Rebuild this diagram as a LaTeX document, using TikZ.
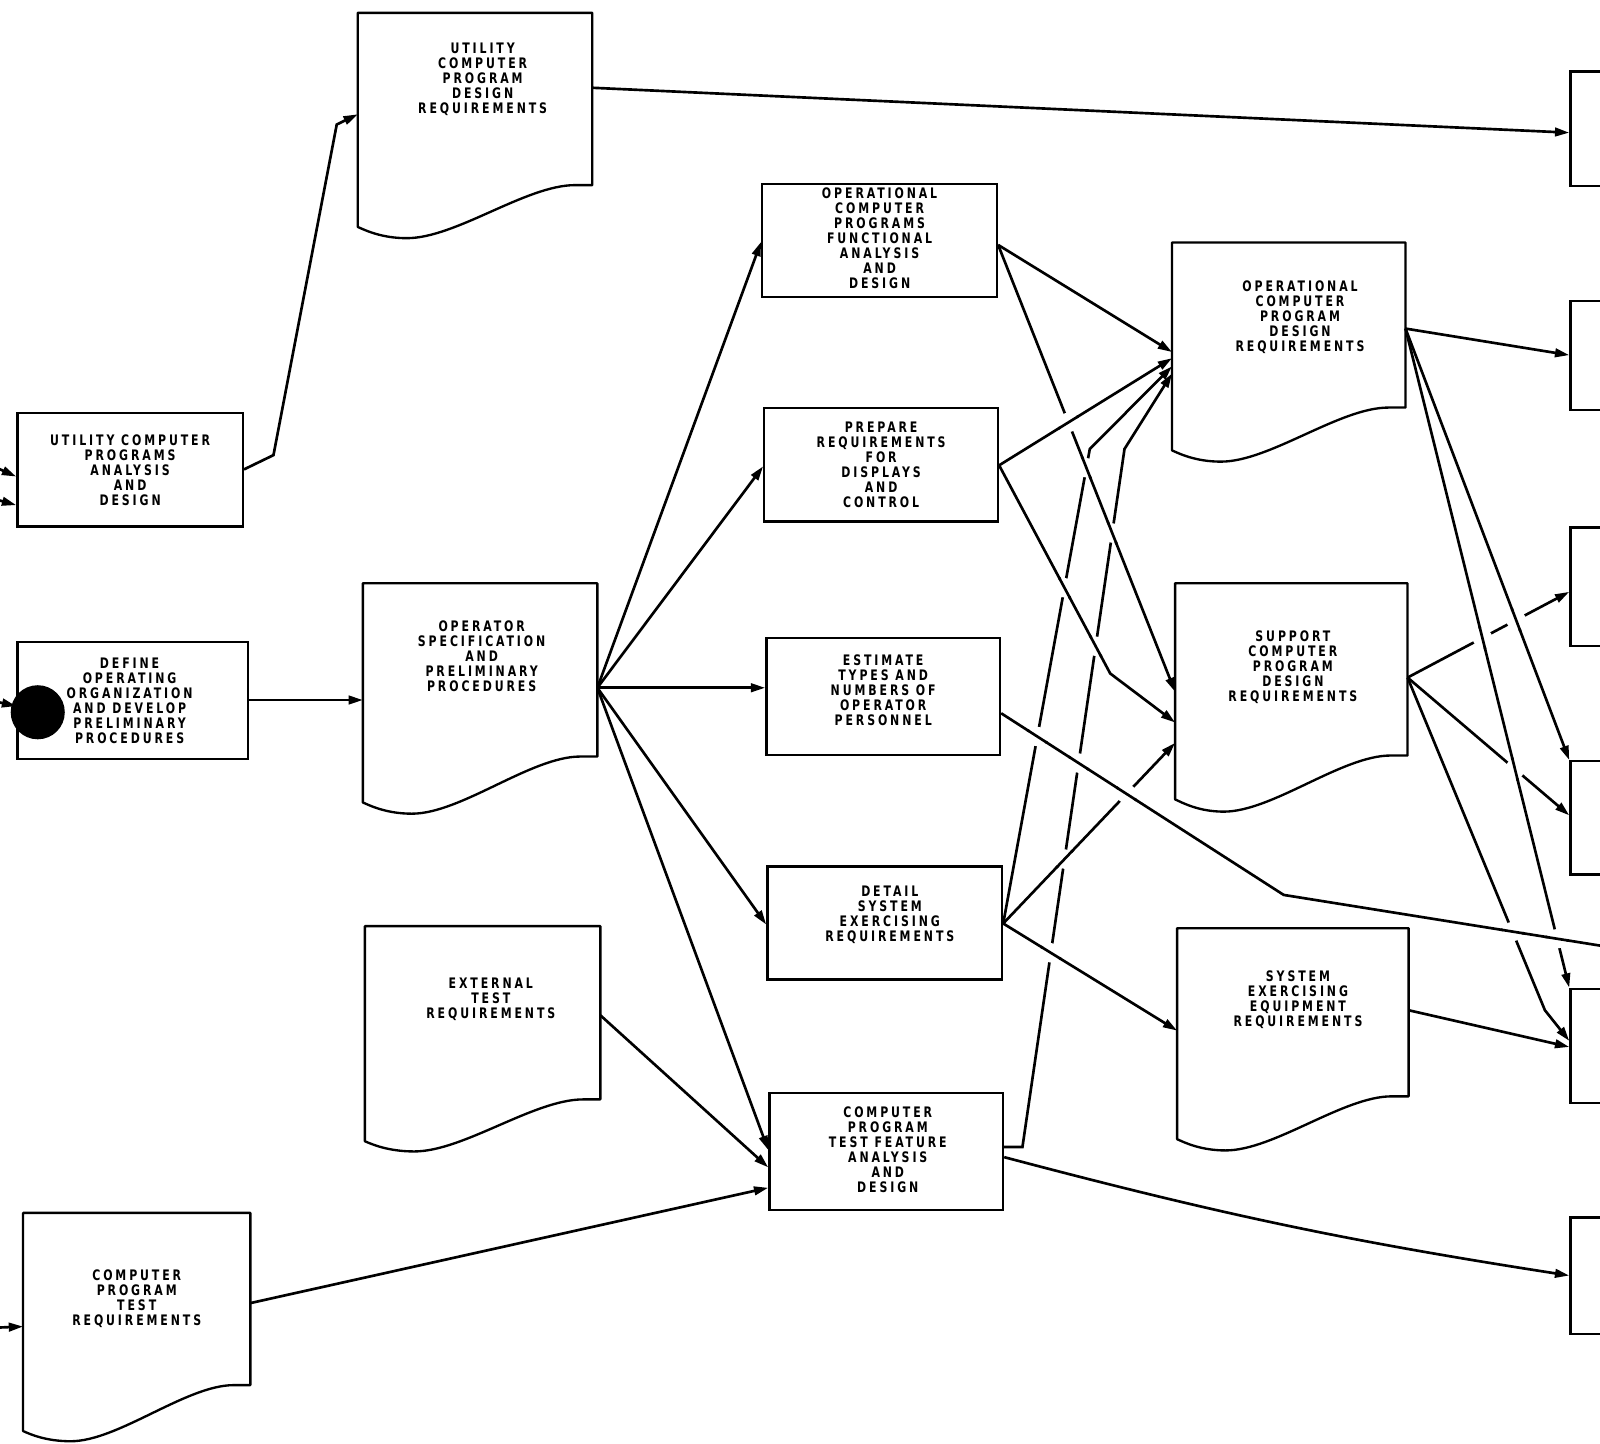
\documentclass[tikz,border=0pt]{standalone}
\usepackage{fontspec}
\newfontfamily\lbl[LetterSpace=20,FakeStretch=0.84]{DejaVu Sans Condensed}
\usetikzlibrary{arrows.meta,calc,fit,intersections}
\tikzset{
 pbox/.style={draw, line width=1.15pt, inner sep=0pt},
 dbox/.style={draw=none, inner sep=0pt},
 txt/.style={font=\lbl\bfseries\fontsize{7.1}{7.35}\selectfont, align=center, inner sep=0pt},
 outline/.style={line width=1.15pt, line join=round},
 wire/.style={line width=1.3pt},
 conn/.style={wire, -{Triangle[length=7pt,width=4.2pt]}},
 blob/.style={circle, fill=black, inner sep=0pt, minimum size=26.5pt}
}
\newcommand\docout[4]{%
 \begin{scope}[shift={(#1.south west)}]
 \draw[outline] (#1.north west) -- (#1.north east) -- (#1.south east) -- (0.93*#2,0)
   .. controls (0.72*#2,0) and (0.42*#2,#4) .. (0.21*#2,#4)
   .. controls (0.1*#2,#4) and (0.03*#2,#3+3) .. (0,#3) -- cycle;
 \end{scope}}
\newcommand\hop[4]{%
 \path[name intersections={of=#1 and #2, by=hx}];
 \fill[white] (hx) circle (4.8pt);
 \draw[wire] ($(hx)!5.8pt!(#3)$) -- ($(hx)!5.8pt!(#4)$);}
\begin{document}
\begin{tikzpicture}[x=0.5pt,y=-0.5pt]
\useasboundingbox (0,0) rectangle (1568,1415);
\fill[white] (0,0) rectangle (1568,1415);
\clip (0,0) rectangle (1568,1415);

% ---------- documents ----------
\node[dbox, fit={(351,13)(580,181)}, label={[txt,xshift=3.75pt,yshift=9.75pt]center:UTILITY\\COMPUTER\\PROGRAM\\DESIGN\\REQUIREMENTS}] (ucpdr) {};
\docout{ucpdr}{229}{41}{52}
\node[dbox, fit={(356,572)(585,741)}, label={[txt,xshift=0.75pt,yshift=6.75pt]center:OPERATOR\\SPECIFICATION\\AND\\PRELIMINARY\\PROCEDURES}] (opspec) {};
\docout{opspec}{229}{45}{56}
\node[dbox, fit={(358,908)(588,1077)}, label={[txt,xshift=4pt,yshift=6.5pt]center:EXTERNAL\\TEST\\REQUIREMENTS}] (external) {};
\docout{external}{230}{41}{51}
\node[dbox, fit={(23,1189)(245,1357)}, label={[txt]center:COMPUTER\\PROGRAM\\TEST\\REQUIREMENTS}] (cptr) {};
\docout{cptr}{222}{45}{55}
\node[dbox, fit={(1149,238)(1377,399)}, label={[txt,xshift=5.5pt,yshift=3.75pt]center:OPERATIONAL\\COMPUTER\\PROGRAM\\DESIGN\\REQUIREMENTS}] (ocpdr) {};
\docout{ocpdr}{228}{42}{53}
\node[dbox, fit={(1152,572)(1379,740)}, label={[txt,xshift=0.75pt,yshift=1pt]center:SUPPORT\\COMPUTER\\PROGRAM\\DESIGN\\REQUIREMENTS}] (scpdr) {};
\docout{scpdr}{227}{43}{55}
\node[dbox, fit={(1154,910)(1380,1074)}, label={[txt,xshift=2.5pt,yshift=6.25pt]center:SYSTEM\\EXERCISING\\EQUIPMENT\\REQUIREMENTS}] (seer) {};
\docout{seer}{226}{42}{53}

% ---------- process boxes ----------
\node[pbox, fit={(17,405)(238,516)}, label={[txt]center:UTILITY COMPUTER\\PROGRAMS\\ANALYSIS\\AND\\DESIGN}] (ucpa) {};
\node[pbox, fit={(17,629)(243,744)}, label={[txt,xshift=-1.5pt]center:DEFINE\\OPERATING\\ORGANIZATION\\AND DEVELOP\\PRELIMINARY\\PROCEDURES}] (define) {};
\node[pbox, fit={(747,180)(977,291)}, label={[txt,yshift=1pt]center:OPERATIONAL\\COMPUTER\\PROGRAMS\\FUNCTIONAL\\ANALYSIS\\AND\\DESIGN}] (ocpfad) {};
\node[pbox, fit={(749,400)(978,511)}, label={[txt]center:PREPARE\\REQUIREMENTS\\FOR\\DISPLAYS\\AND\\CONTROL}] (prdc) {};
\node[pbox, fit={(751,625)(980,740)}, label={[txt,yshift=3pt]center:ESTIMATE\\TYPES AND\\NUMBERS OF\\OPERATOR\\PERSONNEL}] (etnop) {};
\node[pbox, fit={(752,849)(982,960)}, label={[txt,xshift=2.5pt,yshift=4pt]center:DETAIL\\SYSTEM\\EXERCISING\\REQUIREMENTS}] (dser) {};
\node[pbox, fit={(754,1071)(983,1186)}, label={[txt,xshift=0.75pt,yshift=0.75pt]center:COMPUTER\\PROGRAM\\TEST FEATURE\\ANALYSIS\\AND\\DESIGN}] (cptfad) {};

% ---------- partial boxes at right edge ----------
\node[pbox, fit={(1539,70)(1620,182)}] (r1) {};
\node[pbox, fit={(1539,295)(1620,402)}] (r2) {};
\node[pbox, fit={(1539,517)(1620,633)}] (r3) {};
\node[pbox, fit={(1539,746)(1620,857)}] (r4) {};
\node[pbox, fit={(1539,969)(1620,1081)}] (r5) {};
\node[pbox, fit={(1539,1193)(1620,1307)}] (r6) {};

% ---------- coordinates ----------
\coordinate (in1) at (-2,459);
\coordinate (in2) at (-2,490);
\coordinate (in3) at (-2,688);
\coordinate (in4) at (-2,1301);
\coordinate (opo) at (opspec.east |- 0,674);
\coordinate (ofo) at (ocpfad.east |- 0,240);
\coordinate (pro) at (prdc.east |- 0,456);
\coordinate (dso) at (dser.east |- 0,905);
\coordinate (oo) at (ocpdr.east |- 0,322);
\coordinate (so) at (scpdr.east |- 0,664);
\coordinate (osB) at (scpdr.west |- 0,678);
\coordinate (poB) at (ocpdr.west |- 0,351);
\coordinate (psB) at (1088,660);
\coordinate (etA) at (etnop.east |- 0,699);
\coordinate (etB) at (1258,877);
\coordinate (etC) at (1620,935);
\coordinate (dsB) at (scpdr.west |- 0,728);
\coordinate (dseB) at (seer.west |- 0,1010);
\coordinate (o4B) at (r4.north west);
\coordinate (o5B) at (r5.north west);

% ---------- connectors ----------
\draw[conn] (in1) -- (ucpa.west |- 0,467);
\draw[conn] (in2) -- (ucpa.west |- 0,495);
\draw[conn] (in3) -- (define.west |- 0,692);
\draw[conn] (in4) -- (cptr.west |- 0,1300);
\draw[conn] (ucpa.east |- 0,460) -- (268,446) -- (330,122) -- (ucpdr.west |- 0,112);
\draw[conn] (ucpdr.east |- 0,86) -- (r1.west |- 0,130);
\draw[conn] (define.east |- 0,686) -- (opspec.west |- 0,686);
\draw[conn] (opo) -- (ocpfad.west |- 0,237);
\draw[conn] (opo) -- (prdc.west |- 0,457);
\draw[conn] (opo) -- (etnop.west |- 0,674);
\draw[conn] (opo) -- (dser.west |- 0,906);
\draw[conn] (opo) -- (cptfad.west |- 0,1127);
\draw[conn] (external.east |- 0,995) -- (cptfad.west |- 0,1144);
\draw[conn] (cptr.east |- 0,1277) -- (cptfad.west |- 0,1164);

\draw[conn] (ofo) -- (ocpdr.west |- 0,345);
\draw[conn, name path=os] (ofo) -- (osB);
\draw[conn, name path=po] (pro) -- (poB);
\draw[conn, name path=ps] (pro) -- (psB) -- (scpdr.west |- 0,708);
\draw[wire, name path=et] (etA) -- (etB) -- (etC);
\draw[conn, name path=ds] (dso) -- (dsB);
\draw[conn, name path=dse] (dso) -- (dseB);
\draw[conn, name path=E] (dso) -- (1068,440) -- (ocpdr.west |- 0,359);
\draw[conn, name path=F] (cptfad.east |- 0,1124) -- (1002,1124) -- (1102,440) -- (ocpdr.west |- 0,366);
\draw[conn] (cptfad.east |- 0,1134) to[bend right=3] (r6.west |- 0,1250);

\draw[conn] (oo) -- (r2.west |- 0,348);
\draw[conn, name path=o4] (oo) -- (o4B);
\draw[conn, name path=o5] (oo) -- (o5B);
\draw[conn, name path=s3] (so) -- (r3.west |- 0,580);
\draw[conn, name path=s4] (so) -- (r4.west |- 0,799);
\draw[conn, name path=s5] (so) -- (1514,990) -- (r5.west |- 0,1020);
\draw[conn] (seer.east |- 0,990) -- (r5.west |- 0,1026);

% ---------- line hops at crossings ----------
\hop{os}{po}{pro}{poB}
\hop{E}{os}{ofo}{osB}
\hop{E}{ps}{pro}{psB}
\hop{E}{et}{etA}{etB}
\hop{F}{os}{ofo}{osB}
\hop{F}{ps}{pro}{psB}
\hop{F}{et}{etA}{etB}
\hop{F}{ds}{dso}{dsB}
\hop{F}{dse}{dso}{dseB}
\hop{ds}{et}{etA}{etB}
\hop{s3}{o5}{oo}{o5B}
\hop{s3}{o4}{oo}{o4B}
\hop{s4}{o5}{oo}{o5B}
\hop{s5}{et}{etB}{etC}
\hop{o5}{et}{etB}{etC}

% ---------- blot ----------
\node[blob] (blot) at (37,698) {};
\end{tikzpicture}
\end{document}
